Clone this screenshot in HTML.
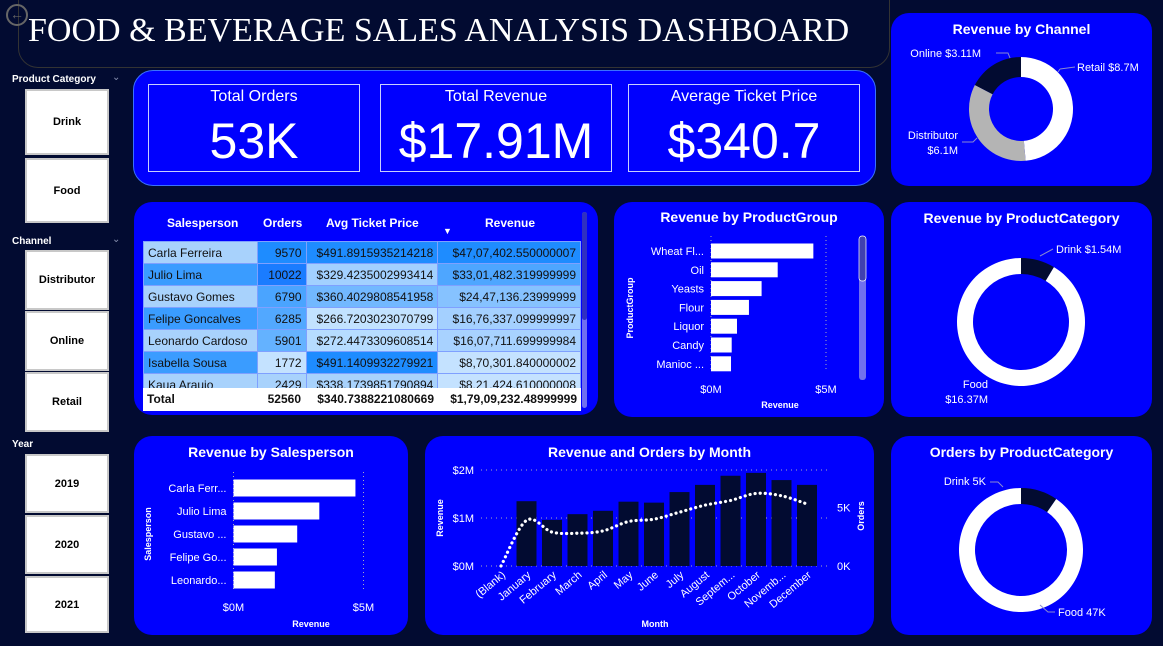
<!DOCTYPE html>
<html><head><meta charset="utf-8"><style>
*{margin:0;padding:0;box-sizing:border-box}
body{width:1163px;height:646px;background:#020b31;position:relative;overflow:hidden;font-family:"Liberation Sans",sans-serif;color:#fff}
.abs{position:absolute}
.panel{position:absolute;background:#0000fe;border-radius:18px}
.slbl{position:absolute;font-size:10px;font-weight:bold;color:#fff;left:12px}
.chev{position:absolute;left:112px;color:#8890b0;font-size:10px}
.sbtn{position:absolute;left:25px;width:84px;background:#fff;border:2px solid #c8c8c8;color:#000;font-size:11px;font-weight:bold;display:flex;align-items:center;justify-content:center}
.card{position:absolute;top:84px;height:88px;border:1px solid #c8d0ff;text-align:center}
.card .t{font-size:16px;margin-top:3px}
.card .v{font-size:50px;margin-top:6px;letter-spacing:0px}
table{border-collapse:collapse;font-size:12px;color:#111}
td{height:22px;padding:0 4px;border:1px solid #7fa0ff;white-space:nowrap;overflow:hidden}
.ptitle{position:absolute;font-weight:bold;font-size:14px;text-align:center;width:100%}
svg text{font-family:"Liberation Sans",sans-serif}
</style></head><body>
<div class="abs" style="left:18px;top:-2px;width:872px;height:70px;border:1px solid #333;border-radius:0 0 20px 20px;background:#020b31"></div>
<div class="abs" style="left:28px;top:12px;font-family:'Liberation Serif',serif;font-size:34px;color:#fff;white-space:nowrap">FOOD &amp; BEVERAGE SALES ANALYSIS DASHBOARD</div>
<div class="abs" style="left:6px;top:4px;width:22px;height:22px;border:2px solid #666;border-radius:50%;color:#666;font-size:14px;line-height:17px;text-align:center">←</div>

<div class="slbl" style="top:74px">Product Category</div><div class="chev" style="top:72px">⌄</div>
<div class="sbtn" style="top:89px;height:66px">Drink</div>
<div class="sbtn" style="top:158px;height:65px">Food</div>
<div class="slbl" style="top:236px">Channel</div><div class="chev" style="top:234px">⌄</div>
<div class="sbtn" style="top:250px;height:60px">Distributor</div>
<div class="sbtn" style="top:311px;height:60px">Online</div>
<div class="sbtn" style="top:372px;height:60px">Retail</div>
<div class="slbl" style="top:439px">Year</div>
<div class="sbtn" style="top:454px;height:59px">2019</div>
<div class="sbtn" style="top:515px;height:59px">2020</div>
<div class="sbtn" style="top:576px;height:57px">2021</div>

<div class="panel" style="left:133px;top:70px;width:743px;height:116px;border:1px solid #3a70ff;border-radius:20px"></div>
<div class="card" style="left:148px;width:212px"><div class="t">Total Orders</div><div class="v">53K</div></div>
<div class="card" style="left:380px;width:232px"><div class="t">Total Revenue</div><div class="v">$17.91M</div></div>
<div class="card" style="left:628px;width:232px"><div class="t">Average Ticket Price</div><div class="v">$340.7</div></div>

<div class="panel" style="left:134px;top:202px;width:464px;height:213px"></div>
<div class="abs" style="left:143px;top:216px;font-size:12px;font-weight:bold;white-space:nowrap">
<span class="abs" style="left:24px">Salesperson</span><span class="abs" style="left:120px">Orders</span><span class="abs" style="left:183px">Avg Ticket Price</span><span class="abs" style="left:342px">Revenue</span><span class="abs" style="left:300px;top:10px;font-size:9px">▼</span></div>
<div class="abs" style="left:143px;top:241px;width:438px;height:170px;overflow:hidden">
<table style="width:438px">
<colgroup><col style="width:114px"><col style="width:49px"><col style="width:132px"><col style="width:143px"></colgroup>
<tr><td style="background:#a8d2fc">Carla Ferreira</td><td style="background:#1e8cff;text-align:right">9570</td><td style="background:#1e8cff;text-align:right">$491.8915935214218</td><td style="background:#1e8cff;text-align:right">$47,07,402.550000007</td></tr>
<tr><td style="background:#3a9cff">Julio Lima</td><td style="background:#1a7cff;text-align:right">10022</td><td style="background:#a2d0ff;text-align:right">$329.4235002993414</td><td style="background:#4ea6ff;text-align:right">$33,01,482.319999999</td></tr>
<tr><td style="background:#a8d2fc">Gustavo Gomes</td><td style="background:#4aa4ff;text-align:right">6790</td><td style="background:#72b8ff;text-align:right">$360.4029808541958</td><td style="background:#86c2ff;text-align:right">$24,47,136.23999999</td></tr>
<tr><td style="background:#3a9cff">Felipe Goncalves</td><td style="background:#52a8ff;text-align:right">6285</td><td style="background:#c2e2ff;text-align:right">$266.7203023070799</td><td style="background:#a4d0ff;text-align:right">$16,76,337.099999997</td></tr>
<tr><td style="background:#a8d2fc">Leonardo Cardoso</td><td style="background:#64b2ff;text-align:right">5901</td><td style="background:#b6dcff;text-align:right">$272.4473309608514</td><td style="background:#a8d2ff;text-align:right">$16,07,711.699999984</td></tr>
<tr><td style="background:#3a9cff">Isabella Sousa</td><td style="background:#c4e2ff;text-align:right">1772</td><td style="background:#1e8cff;text-align:right">$491.1409932279921</td><td style="background:#c4e2ff;text-align:right">$8,70,301.840000002</td></tr>
<tr><td style="background:#a8d2fc">Kaua Araujo</td><td style="background:#a8d2fc;text-align:right">2429</td><td style="background:#a8d2fc;text-align:right">$338.1739851790894</td><td style="background:#c4e2ff;text-align:right">$8,21,424.610000008</td></tr>
</table>
<div class="abs" style="left:0;top:147px;width:438px;height:23px;background:#fff;font-weight:bold;font-size:12px;color:#111">
<span class="abs" style="left:4px;top:4px">Total</span><span class="abs" style="right:280px;top:4px">52560</span><span class="abs" style="right:147px;top:4px">$340.7388221080669</span><span class="abs" style="right:4px;top:4px">$1,79,09,232.48999999</span></div>
</div>
<div class="abs" style="left:582px;top:212px;width:5px;height:196px;background:#6f6ff0;border-radius:3px"><div style="height:108px;background:#3030c0;border-radius:3px"></div></div>

<div class="panel" style="left:614px;top:202px;width:270px;height:215px"><div class="ptitle" style="top:7px">Revenue by ProductGroup</div></div>
<div class="panel" style="left:891px;top:13px;width:261px;height:173px"><div class="ptitle" style="top:8px">Revenue by Channel</div></div>
<div class="panel" style="left:891px;top:202px;width:261px;height:215px"><div class="ptitle" style="top:8px">Revenue by ProductCategory</div></div>
<div class="panel" style="left:134px;top:436px;width:274px;height:199px"><div class="ptitle" style="top:8px">Revenue by Salesperson</div></div>
<div class="panel" style="left:425px;top:436px;width:449px;height:199px"><div class="ptitle" style="top:8px">Revenue and Orders by Month</div></div>
<div class="panel" style="left:891px;top:436px;width:261px;height:199px"><div class="ptitle" style="top:8px">Orders by ProductCategory</div></div>

<svg id="ov" class="abs" style="left:0;top:0" width="1163" height="646"></svg>

<script>
const pgCats=["Wheat Fl...","Oil","Yeasts","Flour","Liquor","Candy","Manioc ..."];
const pgVals=[4.45,2.9,2.2,1.65,1.13,0.9,0.87];
const spCats=["Carla Ferr...","Julio Lima","Gustavo ...","Felipe Go...","Leonardo..."];
const spVals=[4.69,3.30,2.45,1.67,1.59];
const months=["(Blank)","January","February","March","April","May","June","July","August","Septem...","October","Novemb...","December"];
const monthRev=[null,1.35,0.96,1.08,1.15,1.34,1.32,1.54,1.69,1.88,1.94,1.79,1.69];
const monthOrders=[0,3.9,2.9,2.8,3.0,3.8,4.0,4.6,5.2,5.6,6.2,6.0,5.3];
const chLabels=["Retail $8.7M","Distributor $6.1M","Online $3.11M"];
const chVals=[8.7,6.1,3.11];
const catRevVals=[1.54,16.37];
const catOrdVals=[5,47];

const NS="http://www.w3.org/2000/svg";
const ov=document.getElementById('ov');
function el(t,a,txt){const e=document.createElementNS(NS,t);for(const k in a)e.setAttribute(k,a[k]);if(txt!=null)e.textContent=txt;ov.appendChild(e);return e;}

function hbar(cats,vals,x0,pxPerM,y0,step,h,maxM,gridTop,gridBot,tickY,name){
  const xs=v=>x0+v*pxPerM;
  [0,5].forEach(t=>{const g=el('line',{x1:xs(t),x2:xs(t),y1:gridTop,y2:gridBot,stroke:'#aab',"stroke-dasharray":'1 3'});
    
    const tx=el('text',{x:xs(t),y:tickY,fill:'#fff','font-size':11,'text-anchor':'middle'},'$'+t+'M');
    });
  cats.forEach((c,i)=>{const yc=y0+i*step;
    const r=el('rect',{x:x0,y:yc-h/2,width:xs(vals[i])-x0,height:h,fill:'#fff'});
    
    const t=el('text',{x:x0-7,y:yc+4,fill:'#fff','font-size':11,'text-anchor':'end'},c);
    });
}
hbar(pgCats,pgVals,711,23,251,18.8,15,5,236,372,393,'productgroup');
let t=el('text',{x:780,y:408,fill:'#fff','font-size':9,'font-weight':'bold','text-anchor':'middle'},'Revenue');

t=el('text',{x:0,y:0,fill:'#fff','font-size':9,'font-weight':'bold','text-anchor':'middle',transform:'translate(633,308) rotate(-90)'},'ProductGroup');

let sb=el('rect',{x:859,y:236,width:7,height:144,rx:3,fill:'#7070ee'});

sb=el('rect',{x:859,y:236,width:7,height:45,rx:3,fill:'#4040b0',stroke:'#fff','stroke-width':0.7});


hbar(spCats,spVals,233.5,26,488,23,17,5,472,592,611,'salesperson');
t=el('text',{x:311,y:627,fill:'#fff','font-size':9,'font-weight':'bold','text-anchor':'middle'},'Revenue');

t=el('text',{x:0,y:0,fill:'#fff','font-size':9,'font-weight':'bold','text-anchor':'middle',transform:'translate(151,534) rotate(-90)'},'Salesperson');


const mx=i=>501+i*25.5, ry=v=>566-v*48, oy=v=>566-v*11.7;
[0,1,2].forEach(v=>{const g=el('line',{x1:481,x2:829,y1:ry(v),y2:ry(v),stroke:'#aab',"stroke-dasharray":'1 4'});
  
  const tx=el('text',{x:474,y:ry(v)+4,fill:'#fff','font-size':11,'text-anchor':'end'},'$'+v+'M');
  });
[0,5].forEach(v=>{const tx=el('text',{x:837,y:oy(v)+4,fill:'#fff','font-size':11},v+'K');
  });
months.forEach((m,i)=>{
  if(monthRev[i]!=null){const r=el('rect',{x:mx(i)-10,y:ry(monthRev[i]),width:20,height:566-ry(monthRev[i]),fill:'#020b31'});
    }
  const tx=el('text',{x:0,y:0,fill:'#fff','font-size':11,'text-anchor':'end',transform:`translate(${mx(i)+5},576) rotate(-40)`},m);
  });
const pts=monthOrders.map((v,i)=>[mx(i),oy(v)]);
let d='M'+pts[0][0]+','+pts[0][1];
for(let i=1;i<pts.length;i++){const p0=pts[i-1],p1=pts[i],pm=pts[i-2]||p0,pn=pts[i+1]||p1;
  const c1=[p0[0]+(p1[0]-pm[0])/6,p0[1]+(p1[1]-pm[1])/6],c2=[p1[0]-(pn[0]-p0[0])/6,p1[1]-(pn[1]-p0[1])/6];
  d+=` C${c1[0]},${c1[1]} ${c2[0]},${c2[1]} ${p1[0]},${p1[1]}`;}
const ln=el('path',{d:d,fill:'none',stroke:'#fff','stroke-width':3.2,'stroke-dasharray':'0.1 5','stroke-linecap':'round'});

t=el('text',{x:655,y:627,fill:'#fff','font-size':9,'font-weight':'bold','text-anchor':'middle'},'Month');

t=el('text',{x:0,y:0,fill:'#fff','font-size':9,'font-weight':'bold','text-anchor':'middle',transform:'translate(443,518) rotate(-90)'},'Revenue');

t=el('text',{x:0,y:0,fill:'#fff','font-size':9,'font-weight':'bold','text-anchor':'middle',transform:'translate(864,516) rotate(-90)'},'Orders');


function donut(cx,cy,R,r,vals,colors,name){
  const tot=vals.reduce((a,b)=>a+b,0);let a0=-Math.PI/2;
  vals.forEach((v,i)=>{const a1=a0+v/tot*2*Math.PI,lg=(a1-a0)>Math.PI?1:0;
    const p=(rad,a)=>[cx+rad*Math.cos(a),cy+rad*Math.sin(a)];
    const [x1,y1]=p(R,a0),[x2,y2]=p(R,a1),[x3,y3]=p(r,a1),[x4,y4]=p(r,a0);
    const s=el('path',{d:`M${x1},${y1} A${R},${R} 0 ${lg} 1 ${x2},${y2} L${x3},${y3} A${r},${r} 0 ${lg} 0 ${x4},${y4}Z`,fill:colors[i]});
    a0=a1;});
}
donut(1021,109,52,32,chVals,['#fff','#b4b4b4','#020b31'],'channel');
donut(1021,322,64,48,catRevVals,['#020b31','#fff'],'category-revenue');
donut(1021,550,62,46,catOrdVals,['#020b31','#fff'],'category-orders');

function lbl(x,y,s,anchor,name){const tx=el('text',{x:x,y:y,fill:'#fff','font-size':11,'text-anchor':anchor||'start'},s);
  }
function leader(dd,name){const l=el('path',{d:dd,fill:'none',stroke:'#8a8ad0','stroke-width':1});}
lbl(1077,71,chLabels[0],'start','channel-label-retail'); leader('M1060,69 L1075,67 M1060,69 L1058,72','channel-leader-retail');
lbl(981,57,chLabels[2],'end','channel-label-online'); leader('M996,53 L1008,53 L1010,58','channel-leader-online');
lbl(958,139,'Distributor','end','channel-label-distributor'); lbl(958,154,'$6.1M','end','channel-label-distributor-value'); leader('M962,142 L973,142 L977,138','channel-leader-distributor');
lbl(1056,253,'Drink $1.54M','start','category-label-drink'); leader('M1040,256 L1053,249','category-leader-drink');
lbl(988,388,'Food','end','category-label-food'); lbl(988,403,'$16.37M','end','category-label-food-value');
lbl(986,485,'Drink 5K','end','orders-label-drink'); leader('M990,482 L998,482 L1003,487','orders-leader-drink');
lbl(1058,616,'Food 47K','start','orders-label-food'); leader('M1040,605 L1048,612 L1055,612','orders-leader-food');
</script>
</body></html>
